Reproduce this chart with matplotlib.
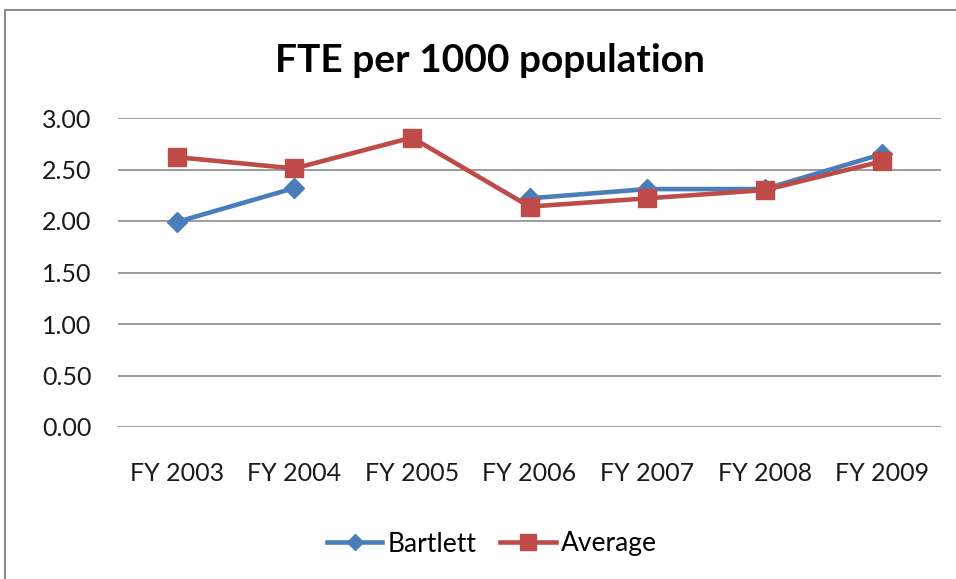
import numpy as np
import matplotlib
matplotlib.use("Agg")
import matplotlib.pyplot as plt
from matplotlib.patches import Rectangle

categories = ["FY 2003", "FY 2004", "FY 2005", "FY 2006", "FY 2007", "FY 2008", "FY 2009"]
bartlett = [1.99, 2.32, np.nan, 2.22, 2.31, 2.31, 2.65]
average = [2.62, 2.51, 2.81, 2.14, 2.22, 2.30, 2.58]
yticks = [0.0, 0.5, 1.0, 1.5, 2.0, 2.5, 3.0]

plt.rcParams['font.family'] = ['Lato', 'DejaVu Sans']

W, H = 956, 579
fig = plt.figure(figsize=(W/100, H/100), dpi=100)
fig.patch.set_facecolor('white')

# outer chart border (cut off at right/bottom)
fig.patches.append(Rectangle((5/W, -0.1), 1.2, 1 - 10/H + 0.1, transform=fig.transFigure,
                             fill=False, edgecolor='#8c8c8c', linewidth=1.5))

ax = fig.add_axes([118/W, 1 - 427/H, (941-118)/W, (427-118)/H])
x = np.arange(len(categories))
blue = '#4a7ebb'
red = '#be4b48'
ax.plot(x, bartlett, color=blue, lw=3.3, marker='D', ms=10, label='Bartlett', zorder=3)
ax.plot(x, average, color=red, lw=3.3, marker='s', ms=13.5, label='Average', zorder=4)

ax.set_xlim(-0.5, len(categories) - 0.5)
ax.set_ylim(0, 3.0)
ax.set_yticks(yticks)
ax.set_yticklabels([f"{v:.2f}" for v in yticks])
ax.set_xticks(x)
ax.set_xticklabels(categories)
ax.grid(axis='y', color='#8c8c8c', lw=1.2)
ax.set_axisbelow(True)
for s in ax.spines.values():
    s.set_visible(False)
ax.tick_params(axis='both', length=0, labelsize=18, colors='#1a1a1a')
ax.tick_params(axis='y', pad=19)
ax.tick_params(axis='x', pad=25)

fig.text(490/W, 1 - 61/H, "FTE per 1000 population", ha='center', va='center',
         fontsize=28, fontweight='bold', color='black')

leg = fig.legend(loc='center', bbox_to_anchor=(492/W, 1 - 544/H), ncol=2, frameon=False,
                 fontsize=19, handlelength=2.1, columnspacing=0.9, handletextpad=0.2,
                 markerscale=0.85)

fig.savefig("out.png", dpi=100)
